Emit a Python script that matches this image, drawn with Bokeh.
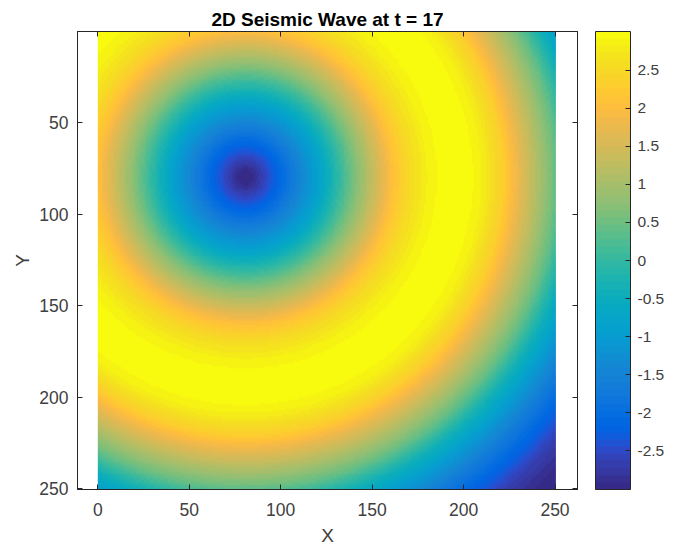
import numpy as np
from bokeh.embed import file_html
from bokeh.resources import INLINE
from bokeh.plotting import figure
from bokeh.models import Range1d, LinearAxis, FixedTicker, LinearColorMapper, ColorBar, Title

TITLE = "2D Seismic Wave at t = 17"
X_TICKS = [0, 50, 100, 150, 200, 250]
Y_TICKS = [50, 100, 150, 200, 250]
CB_TICKS = [-2.5, -2, -1.5, -1, -0.5, 0, 0.5, 1, 1.5, 2, 2.5]
CB_LABELS = ["-2.5", "-2", "-1.5", "-1", "-0.5", "0", "0.5", "1", "1.5", "2", "2.5"]

# Wave centre and radial profile, both (colour against colour bar).
# The raster below is a lookup of this read profile by distance from the centre.
CENTER_X = 81
CENTER_Y = 80
RADIUS = [0, 5, 10, 20, 30, 40, 50, 60, 70, 80, 90, 100, 110, 120, 130, 140, 150, 160, 170, 180, 190, 200, 210, 220, 230, 240]
AMPLITUDE = [-3.0, -2.9, -2.6, -2.05, -1.45, -0.85, -0.1, 0.65, 1.35, 2.05, 2.55, 2.85, 3.0, 3.0, 2.8, 2.35, 1.7, 1.05, 0.4, -0.4, -1.05, -1.65, -2.15, -2.6, -2.9, -3.0]

PARULA = """0.2081 0.1663 0.5292;0.2116 0.1898 0.5777;0.2123 0.2138 0.6270;0.2081 0.2386 0.6771;
0.1959 0.2645 0.7279;0.1707 0.2919 0.7792;0.1253 0.3242 0.8303;0.0591 0.3598 0.8683;
0.0117 0.3875 0.8820;0.0060 0.4086 0.8828;0.0165 0.4266 0.8786;0.0329 0.4430 0.8720;
0.0498 0.4586 0.8641;0.0629 0.4737 0.8554;0.0723 0.4887 0.8467;0.0779 0.5040 0.8384;
0.0793 0.5204 0.8312;0.0749 0.5375 0.8263;0.0641 0.5570 0.8240;0.0488 0.5772 0.8228;
0.0343 0.5966 0.8199;0.0265 0.6137 0.8135;0.0239 0.6287 0.8038;0.0231 0.6418 0.7913;
0.0228 0.6535 0.7768;0.0267 0.6642 0.7607;0.0384 0.6743 0.7436;0.0590 0.6838 0.7254;
0.0843 0.6928 0.7062;0.1133 0.7015 0.6859;0.1453 0.7098 0.6646;0.1801 0.7177 0.6424;
0.2178 0.7250 0.6193;0.2586 0.7317 0.5954;0.3022 0.7376 0.5712;0.3482 0.7424 0.5473;
0.3953 0.7459 0.5244;0.4420 0.7481 0.5033;0.4871 0.7491 0.4840;0.5300 0.7491 0.4661;
0.5709 0.7485 0.4494;0.6099 0.7473 0.4337;0.6473 0.7456 0.4188;0.6834 0.7435 0.4044;
0.7184 0.7411 0.3905;0.7525 0.7384 0.3768;0.7858 0.7356 0.3633;0.8185 0.7327 0.3498;
0.8507 0.7299 0.3360;0.8824 0.7274 0.3217;0.9139 0.7258 0.3063;0.9450 0.7261 0.2886;
0.9739 0.7314 0.2666;0.9938 0.7455 0.2403;0.9990 0.7653 0.2164;0.9955 0.7861 0.1967;
0.9880 0.8066 0.1794;0.9789 0.8271 0.1633;0.9697 0.8481 0.1475;0.9626 0.8705 0.1309;
0.9589 0.8949 0.1132;0.9598 0.9218 0.0948;0.9661 0.9514 0.0755;0.9763 0.9831 0.0538"""
palette = []
for row in PARULA.replace("\n", "").split(";"):
    r, g, b = (int(round(float(c) * 255)) for c in row.split())
    palette.append(f"#{r:02x}{g:02x}{b:02x}")

xs = np.arange(1, 251)
ys = np.arange(1, 251)
gx, gy = np.meshgrid(xs, ys)
field = np.interp(np.hypot(gx - CENTER_X, gy - CENTER_Y), RADIUS, AMPLITUDE)

FONT = "Liberation Sans"
DARK = "#404040"
LINE = "#262626"

p = figure(width=664, height=528, frame_width=500, frame_height=458,
           x_range=Range1d(-11.1, 262.3), y_range=Range1d(250.4, 0.3),
           output_backend="svg", toolbar_location=None,
           min_border_left=77, min_border_top=31, min_border_bottom=10, min_border_right=0,
           x_axis_label="X", y_axis_label="Y")
p.title = Title(text=TITLE, align="center", text_font=FONT, text_font_size="19px",
                text_font_style="bold", text_color="#000000", standoff=3, offset=0)
p.grid.visible = False
p.outline_line_color = LINE
p.outline_line_width = 1

mapper = LinearColorMapper(palette=palette, low=-3.01, high=3.01)
p.image(image=[field], x=0.0, y=0.3, dw=250.5, dh=250.1, color_mapper=mapper)

def style(ax, ticks):
    ax.ticker = FixedTicker(ticks=ticks)
    ax.minor_tick_line_color = None
    ax.major_tick_in = 5
    ax.major_tick_out = 0
    ax.major_tick_line_color = LINE
    ax.axis_line_color = LINE
    ax.major_label_text_font = FONT
    ax.major_label_text_font_size = "17.5px"
    ax.major_label_text_color = DARK
    ax.axis_label_text_font = FONT
    ax.axis_label_text_font_size = "19px"
    ax.axis_label_text_font_style = "normal"
    ax.axis_label_text_color = DARK

style(p.xaxis[0], X_TICKS)
style(p.yaxis[0], Y_TICKS)
p.xaxis[0].major_label_standoff = 13
p.yaxis[0].major_label_standoff = 9
p.xaxis[0].axis_label_standoff = 6
p.yaxis[0].axis_label_standoff = 3

top = LinearAxis()
right = LinearAxis()
style(top, X_TICKS)
style(right, Y_TICKS)
top.major_label_overrides = {t: "" for t in X_TICKS}
right.major_label_overrides = {t: "" for t in Y_TICKS}
top.major_label_standoff = 0
right.major_label_standoff = 0
p.add_layout(top, "above")
p.add_layout(right, "right")

cb = ColorBar(color_mapper=mapper, width=35, height=458, padding=0, margin=0,
              location=(18, 0), ticker=FixedTicker(ticks=CB_TICKS),
              major_label_overrides=dict(zip(CB_TICKS, CB_LABELS)),
              major_tick_in=5, major_tick_line_color=LINE, minor_tick_line_color=None,
              bar_line_color=LINE, major_label_text_font=FONT, major_label_text_font_size="15.5px",
              major_label_text_color=DARK, label_standoff=7)
p.add_layout(cb, "right")

open("out.html", "w").write(file_html(p, INLINE))
